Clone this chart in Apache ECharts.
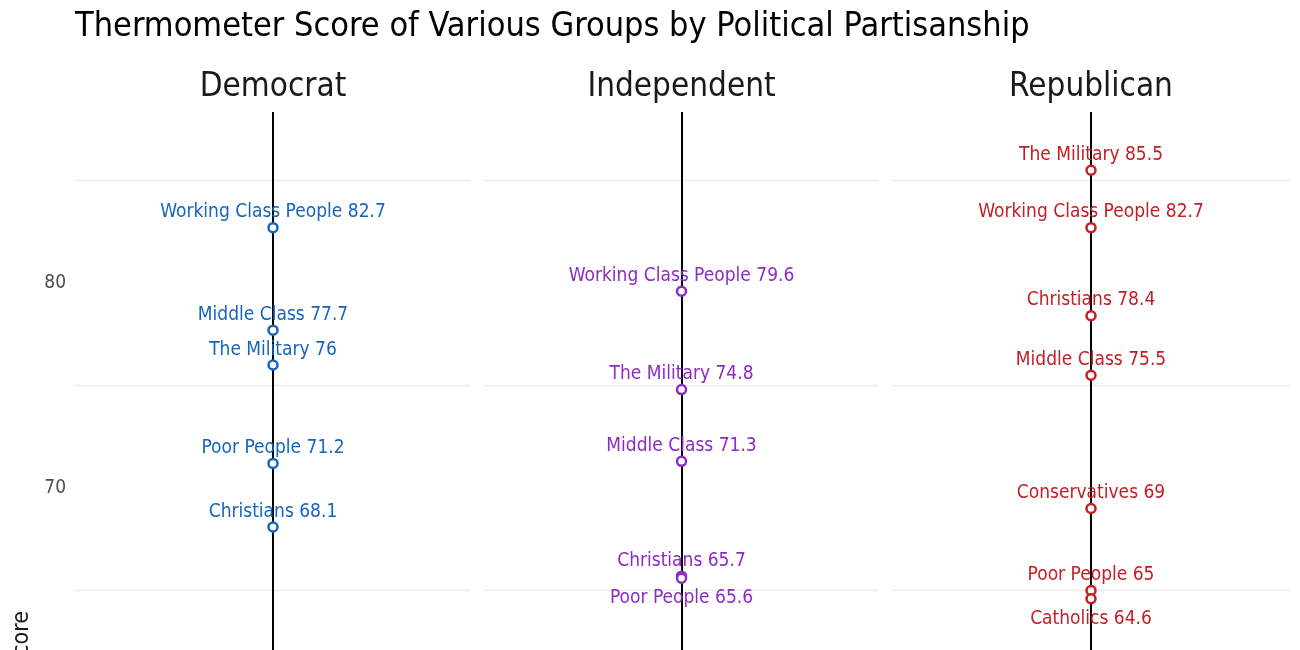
<!DOCTYPE html>
<html>
<head>
<meta charset="utf-8">
<script src="https://cdn.jsdelivr.net/npm/echarts@6/dist/echarts.min.js"></script>
<style>html,body{margin:0;padding:0;background:#fff}#c{width:1300px;height:650px}</style>
</head>
<body>
<div id="c"></div>
<script>
const parties = ['Democrat', 'Independent', 'Republican'];
const colors = ['#1565c0', '#8c2cc6', '#c41e24'];
const demGroups = ['Working Class People', 'Middle Class', 'The Military', 'Poor People', 'Christians'];
const demScores = [82.7, 77.7, 76, 71.2, 68.1];
const indGroups = ['Working Class People', 'The Military', 'Middle Class', 'Christians', 'Poor People'];
const indScores = [79.6, 74.8, 71.3, 65.7, 65.6];
const repGroups = ['The Military', 'Working Class People', 'Christians', 'Middle Class', 'Conservatives', 'Poor People', 'Catholics'];
const repScores = [85.5, 82.7, 78.4, 75.5, 69, 65, 64.6];
const labelBelow = [[], ['Poor People'], ['Catholics']];
const yTickLabels = [70, 80];
const gridValues = [65, 75, 85];

const FONT = '"Liberation Sans Narrow", "DejaVu Sans Condensed", sans-serif';
const groups = [demGroups, indGroups, repGroups];
const scores = [demScores, indScores, repScores];
const gridPos = [{left: 75, width: 396}, {left: 484, width: 395}, {left: 892, width: 398}];
const yMin = 62.1, yMax = 88.34;

const grid = [], xAxis = [], yAxis = [], series = [], titles = [];
parties.forEach((p, i) => {
  grid.push({left: gridPos[i].left, width: gridPos[i].width, top: 112, height: 538});
  xAxis.push({gridIndex: i, type: 'value', min: -1, max: 1, show: false});
  yAxis.push({
    gridIndex: i, type: 'value', min: yMin, max: yMax,
    axisLine: {show: false}, axisTick: {show: false}, splitLine: {show: false},
    axisLabel: {show: i === 0, customValues: yTickLabels, color: '#4d4d4d', fontSize: 19, fontFamily: FONT, margin: 9}
  });
  series.push({
    type: 'scatter', xAxisIndex: i, yAxisIndex: i, data: [], silent: true, z: 1,
    markLine: {
      silent: true, symbol: 'none', animation: false, label: {show: false},
      data: gridValues.map(v => ({yAxis: v, lineStyle: {color: '#ebebeb', width: 1.3, type: 'solid', opacity: 1}}))
        .concat([{xAxis: 0, lineStyle: {color: '#000', width: 2, type: 'solid', opacity: 1}}])
    }
  });
  series.push({
    type: 'scatter', xAxisIndex: i, yAxisIndex: i, z: 5,
    symbol: 'circle', symbolSize: 9,
    itemStyle: {color: '#fff', borderColor: colors[i], borderWidth: 2.5, opacity: 1},
    data: groups[i].map((g, j) => {
      const below = labelBelow[i].includes(g);
      return {
        name: g, value: [0, scores[i][j]],
        label: {position: below ? 'bottom' : 'top', distance: below ? 5 : 0}
      };
    }),
    label: {
      show: true, color: colors[i], opacity: 1, fontSize: 19, fontFamily: FONT,
      formatter: d => d.name + ' ' + d.value[1]
    }
  });
  titles.push({
    text: p, left: gridPos[i].left + gridPos[i].width / 2 - 5, top: 66, textAlign: 'center',
    textStyle: {fontSize: 33, fontWeight: 'normal', color: '#1a1a1a', fontFamily: FONT}
  });
});
titles.unshift({
  text: 'Thermometer Score of Various Groups by Political Partisanship', left: 70, top: 5,
  textStyle: {fontSize: 34, fontWeight: 'normal', color: '#000', fontFamily: FONT}
});

const chart = echarts.init(document.getElementById('c'));
chart.setOption({
  animation: false,
  backgroundColor: '#fff',
  title: titles,
  grid, xAxis, yAxis, series,
  graphic: [{
    type: 'text', x: 22, y: 640, rotation: Math.PI / 2,
    style: {text: 'Score', fontSize: 23, fontFamily: FONT, fill: '#1a1a1a', align: 'center', verticalAlign: 'middle'}
  }]
});
</script>
</body>
</html>
